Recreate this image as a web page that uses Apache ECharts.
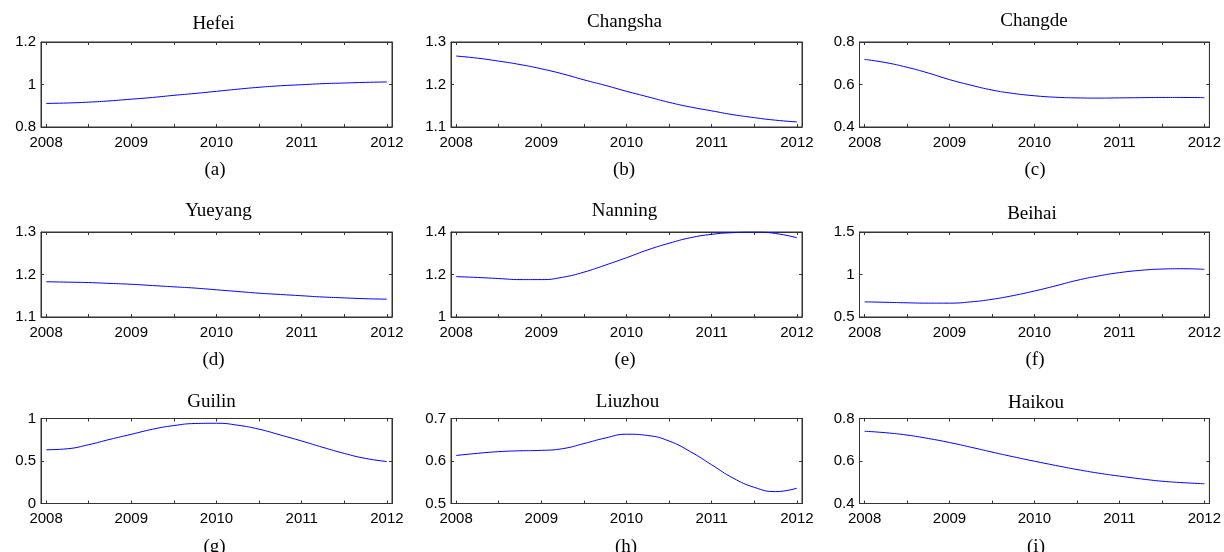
<!DOCTYPE html>
<html>
<head>
<meta charset="utf-8">
<script src="https://cdn.jsdelivr.net/npm/echarts@6/dist/echarts.min.js"></script>
<style>html,body{margin:0;padding:0;background:#fff;}#c{width:1224px;height:552px;}</style>
</head>
<body>
<div id="c"></div>
<script>
// ---- data ----
const years = [2008, 2008.25, 2008.5, 2008.75, 2009, 2009.25, 2009.5, 2009.75, 2010, 2010.25, 2010.5, 2010.75, 2011, 2011.25, 2011.5, 2011.75, 2012];
const xTickLabels = ['2008', '2009', '2010', '2011', '2012'];
const cities = ['Hefei', 'Changsha', 'Changde', 'Yueyang', 'Nanning', 'Beihai', 'Guilin', 'Liuzhou', 'Haikou'];
const panelLetters = ['(a)', '(b)', '(c)', '(d)', '(e)', '(f)', '(g)', '(h)', '(i)'];
const hefei    = [0.911, 0.913, 0.917, 0.923, 0.931, 0.939, 0.949, 0.958, 0.968, 0.978, 0.987, 0.994, 0.999, 1.004, 1.007, 1.010, 1.012];
const changsha = [1.267, 1.262, 1.255, 1.247, 1.237, 1.225, 1.211, 1.198, 1.184, 1.171, 1.158, 1.147, 1.138, 1.129, 1.122, 1.116, 1.112];
const changde  = [0.718, 0.703, 0.681, 0.654, 0.623, 0.597, 0.574, 0.558, 0.547, 0.540, 0.537, 0.536, 0.537, 0.538, 0.539, 0.539, 0.538];
const yueyang  = [1.183, 1.182, 1.181, 1.179, 1.177, 1.174, 1.171, 1.168, 1.164, 1.160, 1.156, 1.153, 1.150, 1.147, 1.145, 1.143, 1.142];
const nanning  = [1.190, 1.186, 1.181, 1.176, 1.176, 1.187, 1.211, 1.244, 1.279, 1.316, 1.347, 1.373, 1.389, 1.397, 1.400, 1.393, 1.373];
const beihai   = [0.678, 0.673, 0.667, 0.663, 0.663, 0.678, 0.708, 0.752, 0.806, 0.867, 0.931, 0.982, 1.022, 1.049, 1.064, 1.068, 1.061];
const guilin   = [0.632, 0.644, 0.692, 0.755, 0.814, 0.874, 0.917, 0.941, 0.944, 0.921, 0.874, 0.806, 0.735, 0.660, 0.589, 0.530, 0.494];
const liuzhou  = [0.613, 0.618, 0.622, 0.624, 0.625, 0.629, 0.641, 0.654, 0.663, 0.660, 0.647, 0.622, 0.591, 0.560, 0.538, 0.528, 0.536];
const haikou   = [0.740, 0.733, 0.722, 0.706, 0.687, 0.665, 0.642, 0.620, 0.599, 0.579, 0.560, 0.543, 0.529, 0.516, 0.505, 0.498, 0.493];
const seriesValues = [hefei, changsha, changde, yueyang, nanning, beihai, guilin, liuzhou, haikou];
const yMins = [0.8, 1.1, 0.4, 1.1, 1.0, 0.5, 0, 0.5, 0.4];
const yMaxs = [1.2, 1.3, 0.8, 1.3, 1.4, 1.5, 1, 0.7, 0.8];
const yIntervals = [0.2, 0.1, 0.2, 0.1, 0.2, 0.5, 0.5, 0.1, 0.2];

// ---- layout ----
const colLeft = [41, 451, 859.5];
const rowTop = [42, 232, 418.5];
const gw = 351, gh = 85;
const titleX = [208.5, 619.5, 1029, 213.5, 619.5, 1027, 206.5, 622.5, 1031];
const labelX = [210, 619, 1030, 208.5, 620, 1030, 209.5, 621, 1031];
const titleTopOff = [-32, -34, -35, -35, -35, -32, -31, -31, -30];
const labelTopOff = 114;
const xMin = 2007.94, xMax = 2012.06;

const boxColor = '#333';
const grids = [], xAxes = [], yAxes = [], series = [], titles = [];
for (let i = 0; i < 9; i++) {
  const r = Math.floor(i / 3), c = i % 3;
  grids.push({left: colLeft[c], top: rowTop[r], width: gw, height: gh, show: true, borderColor: boxColor, borderWidth: 1, containLabel: false});
  const xa = (pos, labels) => ({
    type: 'value', gridIndex: i, position: pos, min: xMin, max: xMax,
    splitNumber: 8, minInterval: 0.5, maxInterval: 0.5,
    axisLine: {show: true, onZero: false, lineStyle: {color: boxColor, width: 1}},
    axisTick: {show: true, inside: true, length: 3, lineStyle: {color: boxColor}},
    splitLine: {show: false},
    axisLabel: {show: labels, margin: 8, color: '#000', fontFamily: 'Liberation Sans', fontSize: 15,
      showMinLabel: true, showMaxLabel: true,
      formatter: v => { const k = xTickLabels.indexOf(String(Math.round(v * 100) / 100)); return k >= 0 ? xTickLabels[k] : ''; }}
  });
  xAxes.push(xa('bottom', true));
  xAxes.push(xa('top', false));
  const ya = (pos, labels) => ({
    type: 'value', gridIndex: i, position: pos, min: yMins[i], max: yMaxs[i], interval: yIntervals[i],
    axisLine: {show: true, onZero: false, lineStyle: {color: boxColor, width: 1}},
    axisTick: {show: true, inside: true, length: 3, lineStyle: {color: boxColor}},
    splitLine: {show: false},
    axisLabel: {show: labels, margin: 5, color: '#000', fontFamily: 'Liberation Sans', fontSize: 15,
      formatter: v => String(Math.round(v * 1000) / 1000)}
  });
  yAxes.push(ya('left', true));
  yAxes.push(ya('right', false));
  series.push({
    type: 'line', xAxisIndex: 2 * i, yAxisIndex: 2 * i, smooth: 0.5, showSymbol: false, symbol: 'none',
    lineStyle: {color: '#0000ff', width: 1}, silent: true, animation: false,
    data: years.map((y, k) => [y, seriesValues[i][k]])
  });
  titles.push({text: cities[i], left: titleX[i], top: rowTop[r] + titleTopOff[i], textAlign: 'center',
    textStyle: {fontFamily: 'Liberation Serif', fontWeight: 'normal', fontSize: 19, color: '#000'}});
  titles.push({text: panelLetters[i], left: labelX[i], top: rowTop[r] + labelTopOff, textAlign: 'center',
    textStyle: {fontFamily: 'Liberation Serif', fontWeight: 'normal', fontSize: 19, color: '#000'}});
}

const chart = echarts.init(document.getElementById('c'), null, {renderer: 'canvas'});
chart.setOption({animation: false, backgroundColor: '#fff', title: titles, grid: grids, xAxis: xAxes, yAxis: yAxes, series: series});
</script>
</body>
</html>
